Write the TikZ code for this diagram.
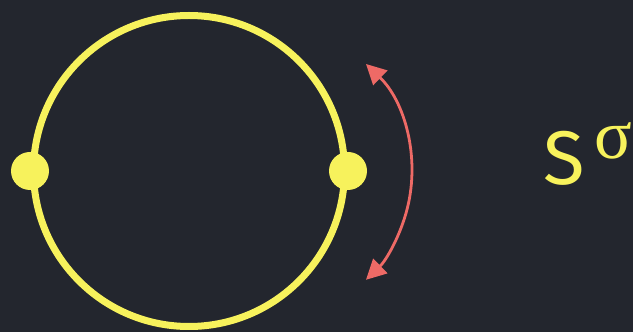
\documentclass[tikz,border=0pt]{standalone}
\usepackage{fontspec}
\setmainfont{Fira Sans}
\newfontfamily\sigmafont{Liberation Serif}
\usetikzlibrary{arrows.meta}
\definecolor{board}{HTML}{23262E}
\definecolor{chalkyellow}{HTML}{F7F25C}
\definecolor{chalkred}{HTML}{EE6A66}
\begin{document}
\begin{tikzpicture}[
        x=1pt, y=1pt,
        >={Triangle[length=20pt, width=20pt]},
        loop/.style={circle, draw=chalkyellow, line width=7pt, inner sep=0pt, minimum size=311pt},
        point/.style={circle, fill=chalkyellow, inner sep=0pt, minimum size=38pt},
        flip/.style={<->, draw=chalkred, line width=2.8pt}
    ]
        \fill[board] (0,0) rectangle (633,332);
        \useasboundingbox (0,0) rectangle (633,332);
        \node[loop] (orbit) at (189,161) {};
\node[point] (west) at (orbit.west) {};
        \node[point] (east) at (orbit.east) {};
        \coordinate (up) at (366,268);
\draw[flip] (up) arc[start angle=46, end angle=-46, radius=150];
        \node[anchor=base west, inner sep=0pt, text=chalkyellow,
              font=\fontsize{76}{84}\selectfont] (label) at (543,147)
              {S\hspace{10pt}\raisebox{26pt}{\sigmafont\fontsize{70}{76}\selectfont σ}};
\end{tikzpicture}
\end{document}
